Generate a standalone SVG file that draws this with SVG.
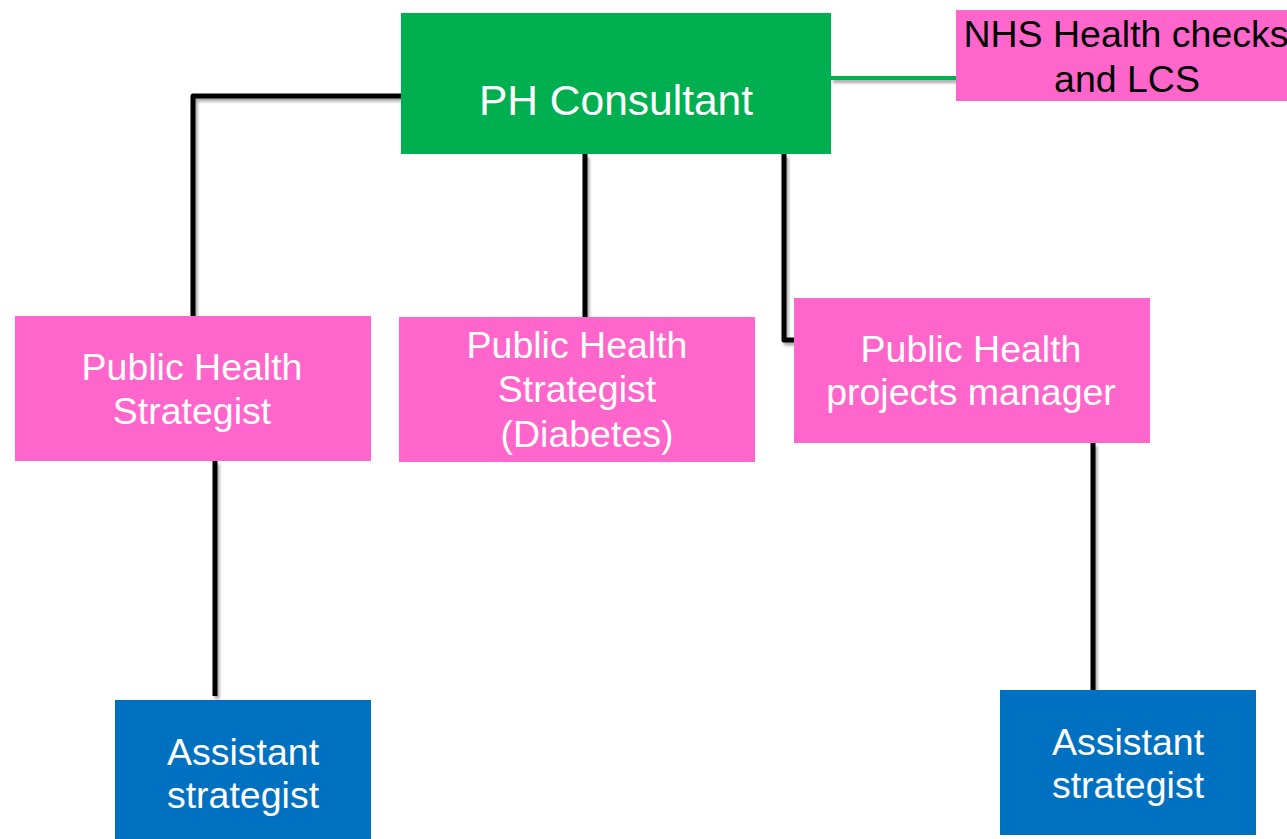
<svg xmlns="http://www.w3.org/2000/svg" width="1287" height="839" viewBox="0 0 1287 839">
<style>
.t{font-family:"Liberation Sans",Arial,sans-serif;font-size:37.5px;text-anchor:middle;fill:#fff}
.blk{fill:#000}
.c{fill:none;stroke:#000;stroke-width:5;stroke-linejoin:round}
.g{fill:none;stroke:#00B050;stroke-width:4}
.pink{fill:#FF66CC}
.blue{fill:#0070C0}
.green{fill:#00B050}
</style>
<defs>
<filter id="sh" x="-10%" y="-10%" width="120%" height="120%">
<feGaussianBlur in="SourceAlpha" stdDeviation="1.5"/>
<feOffset dx="2" dy="3" result="b"/>
<feComponentTransfer><feFuncA type="linear" slope="0.35"/></feComponentTransfer>
<feMerge><feMergeNode/><feMergeNode in="SourceGraphic"/></feMerge>
</filter>
</defs>
<g id="connectors" filter="url(#sh)">
<polyline class="c" points="401,96 193,96 193,316"/>
<line class="c" x1="585" y1="154" x2="585" y2="317"/>
<polyline class="c" points="784,154 784,340 794,340"/>
<line class="c" x1="215" y1="461" x2="215" y2="696"/>
<line class="c" x1="1093" y1="443" x2="1093" y2="690"/>
<line class="g" x1="831" y1="78" x2="956" y2="78"/>
</g>
<g id="ph-consultant">
<rect class="green" x="401" y="13" width="430" height="141"/>
<text class="t" x="616" y="115" style="font-size:42.5px">PH Consultant</text>
</g>
<g id="nhs-health-checks">
<rect class="pink" x="956" y="10" width="340" height="91"/>
<text class="t blk" x="1126" y="47">NHS Health checks</text>
<text class="t blk" x="1127" y="92">and LCS</text>
</g>
<g id="ph-strategist">
<rect class="pink" x="15" y="316" width="356" height="145"/>
<text class="t" x="192" y="380">Public Health</text>
<text class="t" x="192" y="424">Strategist</text>
</g>
<g id="ph-strategist-diabetes">
<rect class="pink" x="399" y="317" width="356" height="145"/>
<text class="t" x="577" y="358">Public Health</text>
<text class="t" x="577" y="402">Strategist</text>
<text class="t" x="587" y="447">(Diabetes)</text>
</g>
<g id="ph-projects-manager">
<rect class="pink" x="794" y="298" width="356" height="145"/>
<text class="t" x="971" y="362">Public Health</text>
<text class="t" x="971" y="405">projects manager</text>
</g>
<g id="assistant-1">
<rect class="blue" x="115" y="700" width="256" height="139"/>
<text class="t" x="243" y="765">Assistant</text>
<text class="t" x="243" y="808">strategist</text>
</g>
<g id="assistant-2">
<rect class="blue" x="1000" y="690" width="256" height="145"/>
<text class="t" x="1128" y="755">Assistant</text>
<text class="t" x="1128" y="798">strategist</text>
</g>
</svg>
